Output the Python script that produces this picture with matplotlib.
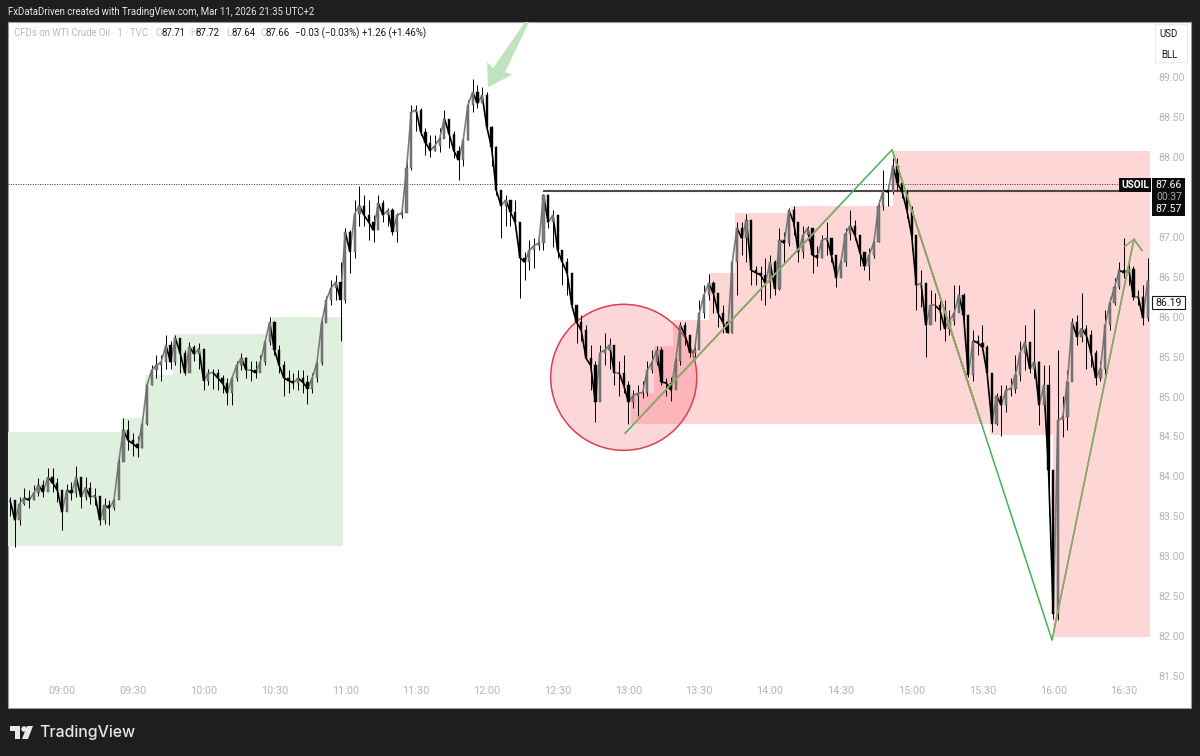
import numpy as np
import matplotlib
matplotlib.use('Agg')
import matplotlib.pyplot as plt
from matplotlib.collections import LineCollection
from matplotlib.patches import Ellipse, Polygon, Rectangle

plt.rcParams['font.family'] = ['Roboto', 'DejaVu Sans']

W, H = 1200, 756

# 2 minute bars, first one at 08:38, each row of 15 is half an hour
first_bar = 518
closes = [
    83.70, 83.45, 83.66, 83.73, 83.70, 83.79, 83.89, 83.80, 83.99, 83.92, 83.83,
    83.55, 83.83, 83.79, 83.99, 83.74, 83.86, 83.74, 83.76, 83.45, 83.64, 83.60, 83.70, 84.18, 84.58, 84.45,
    84.41, 84.36, 84.66, 85.14, 85.33, 85.39, 85.43, 85.64, 85.43, 85.73, 85.55, 85.30, 85.62, 85.53, 85.60,
    85.20, 85.29, 85.30, 85.23, 85.17, 85.04, 85.23, 85.39, 85.48, 85.33, 85.33, 85.30, 85.43, 85.68, 85.93,
    85.58, 85.39, 85.23, 85.20, 85.17, 85.23, 85.18, 85.10, 85.23, 85.42, 85.92, 86.21, 86.36, 86.43, 86.21,
    87.06, 86.81, 87.29, 87.39, 87.27, 87.18, 87.08, 87.42, 87.27, 87.33, 87.06, 87.27, 87.30, 87.86, 88.56,
    88.59, 88.31, 88.18, 88.08, 88.14, 88.23, 88.48, 88.29, 88.08, 87.96, 88.21, 88.65, 88.81, 88.67, 88.77,
    88.37, 88.12, 87.58, 87.39, 87.46, 87.31, 87.18, 86.74, 86.68, 86.83, 86.89, 86.92, 87.52, 87.18, 87.27,
    86.83, 86.68, 86.55, 86.14, 85.93, 85.83, 85.48, 85.39, 84.93, 85.55, 85.58, 85.64, 85.30, 85.30, 85.14,
    84.93, 85.01, 85.04, 85.05, 85.33, 85.43, 85.58, 85.18, 85.17, 85.08, 85.45, 85.89, 85.77, 85.55, 85.58,
    86.04, 86.27, 86.42, 86.29, 86.04, 85.93, 85.80, 86.68, 87.11, 86.98, 87.21, 86.58, 86.55, 86.52, 86.42,
    86.68, 86.35, 86.96, 86.92, 87.33, 87.18, 86.81, 87.02, 87.11, 86.77, 86.74, 86.96, 86.98, 86.77, 86.49,
    86.68, 87.04, 87.14, 87.02, 86.81, 86.63, 86.77, 86.93, 87.39, 87.58, 87.56, 87.89, 87.67, 87.56, 87.33,
    87.02, 86.39, 86.42, 85.89, 86.14, 86.14, 86.08, 85.85, 85.95, 86.04, 86.27, 86.02, 85.27, 85.70, 85.67,
    85.62, 85.29, 84.66, 85.01, 84.89, 85.08, 85.10, 85.27, 85.55, 85.68, 85.35, 85.43, 84.89, 85.14, 84.08,
    82.28, 84.70, 84.74, 85.18, 85.93, 85.75, 85.85, 85.77, 85.55, 85.23, 85.35, 85.89, 86.17, 86.37, 86.58,
    86.55, 86.60, 86.24, 86.25, 85.98, 86.45,
]
highs = [
    83.74, 83.64, 83.74, 83.85, 83.83, 83.89, 83.98, 83.95, 84.10, 84.10, 83.98,
    83.83, 83.91, 83.93, 84.13, 83.98, 83.99, 83.93, 83.85, 83.70, 83.73, 83.70, 83.76, 84.23, 84.73, 84.70,
    84.54, 84.50, 84.70, 85.20, 85.39, 85.52, 85.52, 85.77, 85.70, 85.77, 85.73, 85.58, 85.68, 85.64, 85.67,
    85.58, 85.35, 85.35, 85.35, 85.27, 85.23, 85.27, 85.45, 85.55, 85.50, 85.45, 85.45, 85.52, 85.70, 85.99,
    85.95, 85.64, 85.45, 85.33, 85.30, 85.33, 85.33, 85.27, 85.30, 85.45, 85.98, 86.26, 86.46, 86.52, 86.68,
    87.11, 87.08, 87.46, 87.64, 87.52, 87.46, 87.27, 87.52, 87.46, 87.36, 87.36, 87.30, 87.36, 87.96, 88.65,
    88.65, 88.61, 88.36, 88.27, 88.27, 88.36, 88.59, 88.48, 88.33, 88.14, 88.27, 88.71, 88.98, 88.90, 88.88,
    88.81, 88.39, 88.14, 87.58, 87.52, 87.46, 87.46, 87.18, 86.81, 86.96, 86.98, 87.06, 87.54, 87.54, 87.33,
    87.18, 86.83, 86.73, 86.52, 86.14, 86.02, 85.89, 85.64, 85.45, 85.64, 85.80, 85.73, 85.64, 85.45, 85.52,
    85.20, 85.08, 85.14, 85.20, 85.45, 85.58, 85.63, 85.62, 85.23, 85.25, 85.48, 85.93, 85.93, 85.77, 85.70,
    86.21, 86.39, 86.54, 86.45, 86.29, 86.14, 85.98, 86.73, 87.18, 87.18, 87.29, 87.21, 86.64, 86.64, 86.73,
    86.77, 86.71, 87.11, 87.06, 87.36, 87.38, 87.18, 87.14, 87.14, 87.11, 86.89, 87.02, 87.18, 86.98, 86.77,
    86.77, 87.11, 87.33, 87.21, 87.02, 86.81, 86.86, 86.96, 87.46, 87.83, 87.64, 87.99, 87.98, 87.71, 87.58,
    87.39, 87.02, 86.58, 86.42, 86.33, 86.30, 86.24, 86.21, 86.08, 86.39, 86.39, 86.30, 86.02, 85.83, 85.77,
    85.89, 85.64, 85.29, 85.05, 85.14, 85.14, 85.23, 85.52, 85.70, 85.89, 85.68, 86.10, 85.45, 85.39, 85.39,
    84.08, 85.58, 85.01, 85.33, 85.98, 86.02, 86.30, 85.89, 85.83, 85.58, 85.45, 86.08, 86.24, 86.49, 86.68,
    86.99, 86.68, 86.64, 86.33, 86.39, 86.73,
]
lows = [
    83.51, 83.12, 83.39, 83.64, 83.61, 83.70, 83.76, 83.74, 83.93, 83.80, 83.68,
    83.33, 83.74, 83.70, 83.74, 83.60, 83.71, 83.66, 83.64, 83.39, 83.40, 83.39, 83.58, 83.93, 84.39, 84.33,
    84.26, 84.24, 84.36, 84.64, 85.14, 85.23, 85.20, 85.35, 85.35, 85.39, 85.30, 85.27, 85.43, 85.45, 85.35,
    85.08, 85.14, 85.10, 85.08, 85.05, 84.89, 84.89, 85.20, 85.33, 85.23, 85.20, 85.23, 85.35, 85.39, 85.64,
    85.52, 85.30, 85.01, 85.05, 85.10, 85.08, 85.05, 84.90, 85.05, 85.18, 85.39, 85.95, 86.14, 86.21, 85.70,
    86.17, 86.55, 86.73, 87.14, 87.14, 86.96, 86.93, 87.14, 87.18, 87.14, 87.02, 86.93, 87.23, 87.61, 87.83,
    88.33, 88.27, 88.02, 88.00, 88.08, 88.06, 88.27, 88.11, 87.98, 87.71, 87.89, 88.21, 88.56, 88.61, 88.71,
    88.33, 87.89, 87.52, 86.99, 87.14, 87.14, 87.14, 86.23, 86.46, 86.58, 86.61, 86.83, 86.83, 87.11, 86.87,
    86.73, 86.39, 86.27, 86.14, 85.67, 85.70, 85.48, 85.08, 84.68, 85.39, 85.39, 85.35, 85.14, 85.01, 85.04,
    84.66, 84.85, 84.76, 84.98, 85.01, 85.30, 85.39, 85.14, 85.01, 84.95, 85.10, 85.39, 85.64, 85.49, 85.48,
    85.93, 85.98, 86.21, 86.05, 85.87, 85.80, 85.80, 85.80, 86.27, 86.77, 86.68, 86.39, 86.39, 86.21, 86.14,
    86.23, 86.27, 86.33, 86.68, 86.89, 87.02, 86.68, 86.73, 86.96, 86.55, 86.64, 86.73, 86.77, 86.68, 86.37,
    86.58, 86.64, 86.96, 86.96, 86.64, 86.58, 86.46, 86.73, 86.93, 87.33, 87.39, 87.54, 87.58, 87.48, 87.23,
    86.83, 86.08, 86.12, 85.49, 85.98, 85.95, 85.83, 85.70, 85.77, 85.89, 86.08, 85.83, 85.24, 85.20, 85.52,
    85.58, 85.27, 84.55, 84.64, 84.51, 84.80, 85.01, 85.04, 85.20, 85.33, 85.30, 85.23, 84.64, 84.89, 83.51,
    82.22, 82.20, 84.49, 84.58, 85.52, 85.64, 85.68, 85.35, 85.37, 85.14, 85.20, 85.23, 85.83, 86.14, 86.35,
    86.48, 86.39, 86.21, 86.14, 85.89, 85.95,
]

# zones, time in minutes of the day
green_start = [517, 565, 575, 587, 629]
green_end = [659, 659, 659, 659, 659]
green_top = [84.56, 84.73, 85.27, 85.78, 85.99]
green_bottom = [83.13, 83.13, 83.13, 83.13, 83.13]

pink_start = [781, 791, 799, 814, 825, 849, 892, 933, 960]
pink_end = [933, 933, 933, 933, 933, 933, 960, 960, 1001]
pink_top = [85.04, 85.63, 85.96, 86.55, 87.30, 87.38, 88.07, 88.07, 88.07]
pink_bottom = [84.66, 84.66, 84.66, 84.66, 84.66, 84.66, 84.66, 84.52, 81.99]

zigzag_t = [778.6, 891.7, 959.5, 994.2, 997.6]
zigzag_p = [84.54, 88.09, 81.95, 86.97, 86.83]
tick_t = [990.4, 994.2]
tick_p = [86.88, 86.97]

arrow_t = [720.5, 720.1, 722.6, 736.2, 737.9, 727.7, 730.7]
arrow_p = [88.87, 89.19, 89.11, 89.69, 89.69, 89.06, 89.03]

level_t = [743.8, 988]
level_p = [87.57, 87.57]
last_price = 87.66

time_ticks = [540, 570, 600, 630, 660, 690, 720, 750, 780, 810, 840, 870, 900, 930, 960, 990]
time_labels = ['09:00', '09:30', '10:00', '10:30', '11:00', '11:30', '12:00', '12:30',
               '13:00', '13:30', '14:00', '14:30', '15:00', '15:30', '16:00', '16:30']
price_ticks = [81.5, 82, 82.5, 83, 83.5, 84, 84.5, 85, 85.5, 86, 86.5, 87, 88, 88.5, 89]


def fx(x):
    return x / W


def fy(y):
    return 1 - y / H


def box(x0, y0, x1, y1, **kw):
    fig.add_artist(Rectangle((fx(x0), fy(y1)), (x1 - x0) / W, (y1 - y0) / H,
                             transform=fig.transFigure, **kw))


def label(x, y, s, color='#131722', size=7.0, **kw):
    kw.setdefault('va', 'center')
    fig.text(fx(x), fy(y), s, color=color, fontsize=size, **kw)


fig = plt.figure(figsize=(W / 100, H / 100), dpi=100, facecolor='#1e1e1e')
box(8, 22, 1191, 708, facecolor='white', edgecolor='#9a9a9a', linewidth=0.8, zorder=-5)

ax = fig.add_axes([fx(8), fy(708), (1150 - 8) / W, (708 - 22) / H])
ax.patch.set_alpha(0)
ax.set_xlim(517.1, 1001)
ax.set_ylim(81.10, 89.689)
for s in ax.spines.values():
    s.set_visible(False)

for a, b, t, bt in zip(green_start, green_end, green_top, green_bottom):
    ax.add_patch(Rectangle((a, bt), b - a, t - bt, facecolor='#dff0df', edgecolor='none', zorder=1))

pink = []
for a, b, t, bt in zip(pink_start, pink_end, pink_top, pink_bottom):
    r = Rectangle((a, bt), b - a, t - bt, facecolor='#ffd6d6', edgecolor='none', zorder=1)
    ax.add_patch(r)
    pink.append(r)

ax.add_patch(Ellipse((778, 85.24), 61.9, 1.828, facecolor=(0.949, 0.212, 0.271, 0.2),
                     edgecolor='#dc3f4e', linewidth=1.1, zorder=2))

ax.axhline(last_price, color='#333333', linewidth=0.7, linestyle=(0, (1, 1.5)), zorder=2)
ax.plot(level_t, level_p, color='#4a4a4a', linewidth=1.5, zorder=2, solid_capstyle='butt')

times = first_bar + 2 * np.arange(len(closes))
c = np.array(closes)
o = np.r_[c[0], c[:-1]]
h = np.array(highs)
l = np.array(lows)
up = c >= o
ax.vlines(times, l, h, color='black', linewidth=0.7, zorder=3)

# joins one close to the next, the one minute bars of the original read as a continuous stroke
segs = np.stack([np.column_stack([times[:-1], c[:-1]]), np.column_stack([times[1:], c[1:]])], axis=1)
seg_colors = ['#7d7d7d' if u else 'black' for u in up[1:]]
ax.add_collection(LineCollection(segs, colors=seg_colors, linewidths=1.2, zorder=3.5))

ax.bar(times[up], (c - o)[up], bottom=o[up], width=0.95, color='#7d7d7d', edgecolor='#4a4a4a',
       linewidth=0.3, zorder=4)
ax.bar(times[~up], (o - c)[~up], bottom=c[~up], width=0.95, color='black', edgecolor='black',
       linewidth=0.3, zorder=4)

# green over white, olive where it runs over the pink zones
ax.plot(zigzag_t, zigzag_p, color='#4caf50', linewidth=1.1, zorder=5)
for r in pink:
    line, = ax.plot(zigzag_t, zigzag_p, color='#93a56c', linewidth=1.1, zorder=5)
    line.set_clip_path(r)
ax.plot(tick_t, tick_p, color='#93a56c', linewidth=1.1, zorder=5)

ax.add_patch(Polygon(np.column_stack([arrow_t, arrow_p]), closed=True, facecolor='#bfe3bf',
                     edgecolor='none', zorder=5))

ax.set_xticks(time_ticks)
ax.set_xticklabels(time_labels)
ax.tick_params(axis='x', length=0, pad=-16, labelsize=7.8, labelcolor='#b2b5be')
ax.xaxis.set_tick_params(direction='in')
ax.yaxis.tick_right()
ax.set_yticks(price_ticks)
ax.set_yticklabels([f'{p:.2f}' for p in price_ticks])
ax.tick_params(axis='y', length=0, pad=6, labelsize=7.6, labelcolor='#b2b5be')

# header
label(8, 12, 'FxDataDriven created with TradingView.com, Mar 11, 2026 21:35 UTC+2', color='#e6e6e6', size=6.9)
label(14, 33, 'CFDs on WTI Crude Oil · 1 · TVC', color='#b8bbc4', size=6.9)
for x, s, col in [(155, 'O', '#c4c6cc'), (162, '87.71', '#131722'), (190, 'H', '#c4c6cc'), (196, '87.72', '#131722'),
                  (226, 'L', '#c4c6cc'), (231, '87.64', '#131722'), (260, 'C', '#c4c6cc'), (265, '87.66', '#131722'),
                  (295, '−0.03 (−0.03%)', '#131722'), (362, '+1.26 (+1.46%)', '#131722')]:
    label(x, 33, s, color=col, size=6.9)

# currency and unit buttons
box(1155, 24, 1187, 62, facecolor='white', edgecolor='#ececec', linewidth=0.8)
label(1169, 34, 'USD', ha='center')
label(1169, 55, 'BLL', ha='center')

# price tags
box(1119, 178, 1151, 192, facecolor='#0a0a0a', edgecolor='none')
label(1135, 185, 'USOIL', color='white', ha='center', size=7.2, weight='bold')
box(1152, 178, 1185, 216, facecolor='#0a0a0a', edgecolor='none')
label(1169, 185, '87.66', color='white', ha='center', size=7.6)
label(1169, 197, '00:37', color='#a8a8a8', ha='center', size=7.6)
label(1169, 209, '87.57', color='white', ha='center', size=7.6)
box(1152, 296, 1185, 309, facecolor='white', edgecolor='#131722', linewidth=0.8)
label(1169, 302.5, '86.19', ha='center', size=7.6)

# TradingView logo
logo = '#e8e8e8'
fig.add_artist(Polygon([(fx(10), fy(726)), (fx(20), fy(726)), (fx(20), fy(739)), (fx(15), fy(739)),
                        (fx(15), fy(731)), (fx(10), fy(731))], closed=True, facecolor=logo,
                       edgecolor='none', transform=fig.transFigure))
fig.add_artist(Ellipse((fx(24), fy(729)), 5.5 / W, 5.5 / H, facecolor=logo, edgecolor='none',
                       transform=fig.transFigure))
fig.add_artist(Polygon([(fx(27), fy(726)), (fx(33), fy(726)), (fx(28), fy(739)), (fx(22), fy(739))],
                       closed=True, facecolor=logo, edgecolor='none', transform=fig.transFigure))
fig.text(fx(39), fy(733), 'TradingView', color=logo, fontsize=11.4, family=['Inter', 'DejaVu Sans'],
         weight='medium', va='center')

fig.savefig('out.png', dpi=100, facecolor=fig.get_facecolor())
